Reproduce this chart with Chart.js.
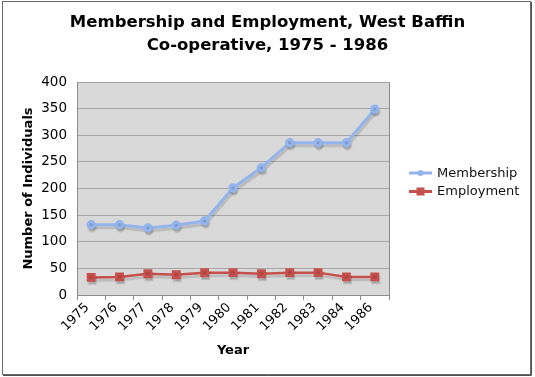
<!DOCTYPE html>
<html>
<head>
<meta charset="utf-8">
<script src="https://cdn.jsdelivr.net/npm/chart.js@4"></script>
<style>
  html, body { margin: 0; padding: 0; background: #fff; }
  #wrap { width: 535px; height: 377px; position: relative; }
</style>
</head>
<body>
<div id="wrap"><canvas id="coopChart" width="535" height="377"></canvas></div>
<script>
// ── data ──
var years = ['1975', '1976', '1977', '1978', '1979', '1980', '1981', '1982', '1983', '1984', '1986'];
var membership = [132, 132, 126, 131, 139, 201, 239, 286, 286, 286, 349];
var employment = [33, 34, 40, 38, 42, 42, 40, 42, 42, 34, 34];
var yTicks = [0, 50, 100, 150, 200, 250, 300, 350, 400];

var FONT = 'DejaVu Sans, Verdana, sans-serif';
var BLUE = '#93b4ec';
var RED = '#c6504b';

// plot background, frame, outer border
var framePlugin = {
    id: 'frame',
    beforeDraw: function(chart) {
        var c = chart.ctx, a = chart.chartArea;
        c.save();
        c.fillStyle = '#fff';
        c.fillRect(0, 0, chart.width, chart.height);
        c.fillStyle = '#d9d9d9';
        c.fillRect(a.left, a.top, a.right - a.left, a.bottom - a.top);
        c.restore();
    },
    beforeDatasetsDraw: function(chart) {
        var c = chart.ctx, a = chart.chartArea;
        c.save();
        c.strokeStyle = '#8c8c8c';
        c.lineWidth = 1;
        c.beginPath();
        c.moveTo(a.right + 0.5, a.top);
        c.lineTo(a.right + 0.5, a.bottom);
        c.stroke();
        c.restore();
    },
    afterDraw: function(chart) {
        var c = chart.ctx;
        c.save();
        c.strokeStyle = '#6a6a6a';
        c.lineWidth = 1;
        c.strokeRect(2.5, 1.5, 528, 373);
        c.strokeStyle = '#505050';
        c.beginPath();
        c.moveTo(531.5, 2); c.lineTo(531.5, 375.5); c.lineTo(3, 375.5);
        c.stroke();
        c.restore();
    }
};

// soft drop shadow under the lines
var shadowPlugin = {
    id: 'shadow',
    beforeDatasetDraw: function(chart) {
        var c = chart.ctx;
        c.save();
        c.shadowColor = 'rgba(0,0,0,0.14)';
        c.shadowOffsetX = 1;
        c.shadowOffsetY = 3;
        c.shadowBlur = 1;
    },
    afterDatasetDraw: function(chart) {
        chart.ctx.restore();
    }
};

// legend on the right, drawn from the datasets
var legendPlugin = {
    id: 'sideLegend',
    afterDraw: function(chart) {
        var c = chart.ctx;
        var x0 = 409, y0 = 173, gap = 18.5;
        c.save();
        chart.data.datasets.forEach(function(ds, i) {
            var y = y0 + i * gap;
            c.strokeStyle = ds.borderColor;
            c.lineWidth = 3;
            c.beginPath();
            c.moveTo(x0, y); c.lineTo(x0 + 23, y);
            c.stroke();
            c.fillStyle = ds.pointBackgroundColor;
            if (ds.pointStyle === 'rect') {
                c.fillRect(x0 + 11.5 - 4, y - 4, 8, 8);
            } else {
                c.beginPath(); c.arc(x0 + 11.5, y, 3, 0, Math.PI * 2); c.fill();
            }
            c.fillStyle = '#111';
            c.font = '13px ' + FONT;
            c.textBaseline = 'middle';
            c.textAlign = 'left';
            c.fillText(ds.label, x0 + 28, y + 0.5);
        });
        c.restore();
    }
};

new Chart(document.getElementById('coopChart').getContext('2d'), {
    type: 'line',
    data: {
        labels: years,
        datasets: [
            { label: 'Membership', data: membership, borderColor: BLUE, backgroundColor: BLUE,
              pointBackgroundColor: BLUE, pointBorderColor: BLUE, pointStyle: 'circle',
              pointRadius: 3.2, borderWidth: 3, tension: 0 },
            { label: 'Employment', data: employment, borderColor: RED, backgroundColor: RED,
              pointBackgroundColor: RED, pointBorderColor: RED, pointStyle: 'rect',
              pointRadius: 4.5, borderWidth: 2.5, tension: 0 }
        ]
    },
    options: {
        responsive: false, animation: false, devicePixelRatio: 1,
        layout: { padding: 0 },
        plugins: {
            legend: { display: false },
            tooltip: { enabled: false },
            title: {
                display: true,
                text: ['Membership and Employment, West Baffin', 'Co-operative, 1975 - 1986'],
                color: '#000',
                font: { family: FONT, size: 16.5, weight: 'bold', lineHeight: 1.4 },
                padding: { top: 11, bottom: 24.8 }
            }
        },
        scales: {
            x: {
                offset: true,
                grid: { offset: true, drawOnChartArea: false, drawTicks: true, tickLength: 5, color: '#8c8c8c' },
                border: { display: true, color: '#8c8c8c', width: 1 },
                ticks: { color: '#000', font: { family: FONT, size: 13 }, maxRotation: 45, minRotation: 45, padding: 0, labelOffset: -4, autoSkip: false },
                title: { display: true, text: 'Year', color: '#000', font: { family: FONT, size: 13, weight: 'bold', lineHeight: 1.2 }, padding: { top: 0, bottom: 18.2 } },
                afterFit: function(s) { s.height = 82; }
            },
            y: {
                min: 0, max: 400,
                afterBuildTicks: function(s) { s.ticks = yTicks.map(function(v) { return { value: v }; }); },
                grid: { color: '#a6a6a6', drawTicks: false, lineWidth: 1 },
                border: { display: true, color: '#8c8c8c', width: 1 },
                ticks: { color: '#000', font: { family: FONT, size: 13.5 }, padding: 10 },
                title: { display: true, text: 'Number of Individuals', color: '#000', font: { family: FONT, size: 13, weight: 'bold', lineHeight: 1.2 }, padding: { top: 21.2, bottom: 0 } },
                afterFit: function(s) { s.width = 77; }
            },
            // empty right-hand box that leaves room for the legend
            side: {
                position: 'right', display: true,
                grid: { display: false }, border: { display: false }, ticks: { display: false },
                afterFit: function(s) { s.width = 146; }
            }
        }
    },
    plugins: [framePlugin, shadowPlugin, legendPlugin]
});
</script>
</body>
</html>
